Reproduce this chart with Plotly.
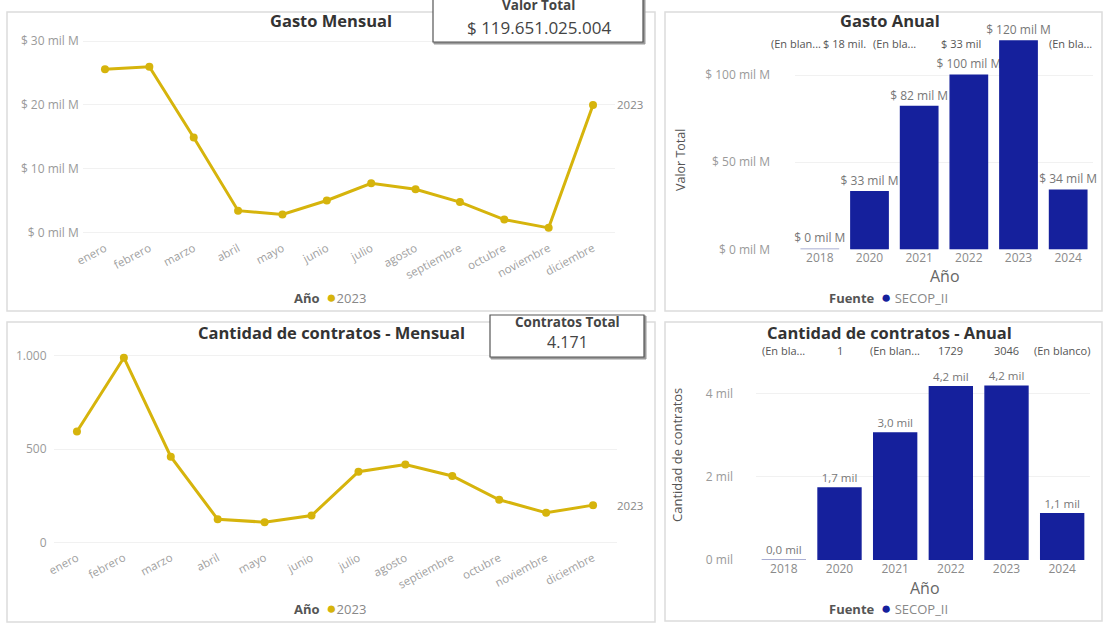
import plotly.graph_objects as go

W, H = 1103, 630

# ---- data -------------------------------------------------------------
meses = ["enero", "febrero", "marzo", "abril", "mayo", "junio", "julio",
         "agosto", "septiembre", "octubre", "noviembre", "diciembre"]
serie = "2023"
gasto_mensual = [25.6, 26.0, 14.9, 3.4, 2.8, 5.0, 7.7, 6.75, 4.75, 2.0, 0.7, 20.0]   # mil M
contratos_mensual = [595, 990, 460, 125, 110, 145, 380, 418, 357, 230, 160, 201]

anios = ["2018", "2020", "2021", "2022", "2023", "2024"]
gasto_anual = [0.018, 33, 82, 100, 119.651025004, 34]          # mil M
contratos_anual = [1, 1729, 3046, 4160, 4171, 1110]
fuente = "SECOP_II"

fila_gasto = ["(En blan...", "$ 18 mil.", "(En bla...", "$ 33 mil", "", "(En bla..."]
fila_contratos = ["(En bla...", "1", "(En blan...", "1729", "3046", "(En blanco)"]

VALOR_TOTAL = 119651025004
CONTRATOS_TOTAL = sum(contratos_mensual)

# ---- style ------------------------------------------------------------
AMARILLO = "#D6B40C"
AZUL = "#15209C"
FONT = "Open Sans"
GRIS = "#8a8a8a"
TITULO = "#333333"


def fx(px):
    return px / W


def fy(py):
    return 1 - py / H


def miles(n):
    return f"{n:,}".replace(",", ".")


fig = go.Figure()

# Gasto mensual
fig.add_trace(go.Scatter(
    x=meses, y=gasto_mensual, mode="lines+markers", name=serie,
    line=dict(color=AMARILLO, width=3), marker=dict(color=AMARILLO, size=8),
    xaxis="x", yaxis="y", showlegend=False, cliponaxis=False))

# Gasto anual
fig.add_trace(go.Bar(
    x=anios, y=gasto_anual, name=fuente, width=0.75,
    marker=dict(color=AZUL, line=dict(color=["#8d93c4"] + [AZUL] * 5, width=1.5)),
    text=[f"$ {round(v):d} mil M" for v in gasto_anual], textposition="outside",
    constraintext="none", cliponaxis=False,
    textfont=dict(family=FONT, size=12, color="#777777"),
    xaxis="x2", yaxis="y2", showlegend=False))

# Cantidad de contratos mensual
fig.add_trace(go.Scatter(
    x=meses, y=contratos_mensual, mode="lines+markers", name=serie,
    line=dict(color=AMARILLO, width=3), marker=dict(color=AMARILLO, size=8),
    xaxis="x3", yaxis="y3", showlegend=False, cliponaxis=False))

# Cantidad de contratos anual
fig.add_trace(go.Bar(
    x=anios, y=contratos_anual, name=fuente, width=0.77,
    marker=dict(color=AZUL, line=dict(color=["#8d93c4"] + [AZUL] * 5, width=1.5)),
    text=[f"{v / 1000:.1f}".replace(".", ",") + " mil" for v in contratos_anual],
    textposition="outside", constraintext="none", cliponaxis=False,
    textfont=dict(family=FONT, size=11.5, color="#777777"),
    xaxis="x4", yaxis="y4", showlegend=False))

tick_y = dict(family=FONT, size=12, color="#9a9a9a")
tick_mes = dict(family=FONT, size=11.5, color="#a0a0a0")
tick_anio = dict(family=FONT, size=12, color="#8a8a8a")
grid = "#f1f1f1"

common_x = dict(type="category", showgrid=False, showline=False, zeroline=False, ticks="",
                automargin=False)
common_y = dict(showgrid=True, gridcolor=grid, zeroline=False, showline=False, ticks="",
                automargin=False)

fig.update_layout(
    width=W, height=H,
    margin=dict(l=0, r=0, t=0, b=0, autoexpand=False),
    paper_bgcolor="white", plot_bgcolor="white",
    font=dict(family=FONT),
    xaxis=dict(common_x, domain=[fx(82.8), fx(615.2)], range=[-0.5, 11.5], anchor="y",
               tickangle=-28, tickfont=tick_mes),
    yaxis=dict(common_y, domain=[fy(238.7), fy(34.9)], range=[-1, 31], anchor="x",
               tickvals=[0, 10, 20, 30],
               ticktext=["$ 0 mil M", "$ 10 mil M", "$ 20 mil M", "$ 30 mil M"],
               tickfont=tick_y, ticklabelstandoff=3),
    xaxis2=dict(common_x, domain=[fx(795), fx(1093)], range=[-0.5, 5.5], anchor="y2",
                tickfont=tick_anio),
    yaxis2=dict(common_y, domain=[fy(249.3), fy(37)], range=[0, 122], anchor="x2",
                tickvals=[0, 50, 100],
                ticktext=["$ 0 mil M", "$ 50 mil M", "$ 100 mil M"],
                tickfont=tick_y, ticklabelstandoff=24),
    xaxis3=dict(common_x, domain=[fx(53.5), fx(616.5)], range=[-0.5, 11.5], anchor="y3",
                tickangle=-28, tickfont=tick_mes),
    yaxis3=dict(common_y, domain=[fy(548.3), fy(340.9)], range=[-30, 1080], anchor="x3",
                tickvals=[0, 500, 1000], ticktext=["0", "500", "1.000"],
                tickfont=tick_y, ticklabelstandoff=6),
    xaxis4=dict(common_x, domain=[fx(756), fx(1090)], range=[-0.5, 5.5], anchor="y4",
                tickfont=tick_anio),
    yaxis4=dict(common_y, domain=[fy(560), fy(368.3)], range=[0, 4600], anchor="x4",
                tickvals=[0, 2000, 4000], ticktext=["0 mil", "2 mil", "4 mil"],
                tickfont=tick_y, ticklabelstandoff=22),
)

# ---- panels and KPI cards ----------------------------------------------
shapes = []
for (x0, y0, x1, y1) in [(7, 12, 655, 311), (665, 12, 1102, 311),
                         (7, 322, 655, 622), (665, 322, 1102, 621)]:
    shapes.append(dict(type="rect", xref="paper", yref="paper",
                       x0=fx(x0), x1=fx(x1), y0=fy(y1), y1=fy(y0),
                       line=dict(color="#dcdcdc", width=1.5), fillcolor="rgba(0,0,0,0)",
                       layer="below"))
for (x0, y0, x1, y1) in [(433, -6, 643, 42), (490, 315, 644, 357)]:
    shapes.append(dict(type="rect", xref="paper", yref="paper",
                       x0=fx(x0 + 1), x1=fx(x1 + 2), y0=fy(y1 + 2), y1=fy(y0 + 1),
                       line=dict(color="#9a9a9a", width=1), fillcolor="#9a9a9a"))
    shapes.append(dict(type="rect", xref="paper", yref="paper",
                       x0=fx(x0), x1=fx(x1), y0=fy(y1), y1=fy(y0),
                       line=dict(color="#555555", width=1.2), fillcolor="white"))
fig.update_layout(shapes=shapes)

ann = []


def text(px, py, s, size=11, color=GRIS, bold=False, angle=0, **kw):
    ann.append(dict(xref="paper", yref="paper", x=fx(px), y=fy(py),
                    text=f"<b>{s}</b>" if bold else s, showarrow=False,
                    textangle=angle, xanchor=kw.pop("xanchor", "center"), yanchor="middle",
                    font=dict(family=FONT, size=size, color=color), **kw))


# titles
text(331, 21, "Gasto Mensual", size=16.5, color=TITULO, bold=True)
text(890, 21, "Gasto Anual", size=16.5, color=TITULO, bold=True)
text(331, 332, "Cantidad de contratos - Mensual", size=16.5, color=TITULO, bold=True)
text(889, 332, "Cantidad de contratos - Anual", size=16.5, color=TITULO, bold=True)

# KPI cards
text(538, 5, "Valor Total", size=13.5, color="#444444", bold=True)
text(539, 28, "$ " + miles(VALOR_TOTAL), size=17, color="#444444")
text(567, 322, "Contratos Total", size=13.5, color="#444444", bold=True)
text(567, 342, miles(CONTRATOS_TOTAL), size=16, color="#444444")

# axis titles
text(680, 160, "Valor Total", size=12.5, color="#555555", angle=-90)
text(677, 455, "Cantidad de contratos", size=13, color="#555555", angle=-90)
text(945, 276, "Año", size=16, color="#666666")
text(925, 588, "Año", size=16, color="#666666")

# legends
DOT = "<span style='font-size:17px;color:{c}'>●</span>"
leg_serie = (f"<b><span style='color:#555555'>Año</span></b>  "
             + DOT.format(c=AMARILLO) + f"<span style='color:#888888'>{serie}</span>")
leg_fuente = (f"<b><span style='color:#555555'>Fuente</span></b>  "
              + DOT.format(c=AZUL) + f" <span style='color:#888888'>{fuente}</span>")
text(330, 296, leg_serie, size=13)
text(330, 607, leg_serie, size=13)
text(888, 296, leg_fuente, size=13)
text(888, 607, leg_fuente, size=13)

# series end labels
ann.append(dict(xref="x", yref="y", x=len(meses) - 1, y=gasto_mensual[-1], text=serie,
                showarrow=False, xanchor="left", xshift=22,
                font=dict(family=FONT, size=11.5, color="#888888")))
ann.append(dict(xref="x3", yref="y3", x=len(meses) - 1, y=contratos_mensual[-1], text=serie,
                showarrow=False, xanchor="left", xshift=22,
                font=dict(family=FONT, size=11.5, color="#888888")))

# label rows above the bars (positions by category index)
shift_gasto = [-24, -25, -25, -8, 0, 2]
for i, s in enumerate(fila_gasto):
    if s:
        ann.append(dict(xref="x2", yref="paper", x=i, y=fy(44), yanchor="middle", text=s,
                        showarrow=False, xshift=shift_gasto[i],
                        font=dict(family=FONT, size=11, color="#555555")))
for i, s in enumerate(fila_contratos):
    ann.append(dict(xref="x4", yref="paper", x=i, y=fy(350), yanchor="middle", text=s,
                    showarrow=False, font=dict(family=FONT, size=11, color="#555555")))

fig.update_layout(annotations=ann)

fig.write_html("out.html")
